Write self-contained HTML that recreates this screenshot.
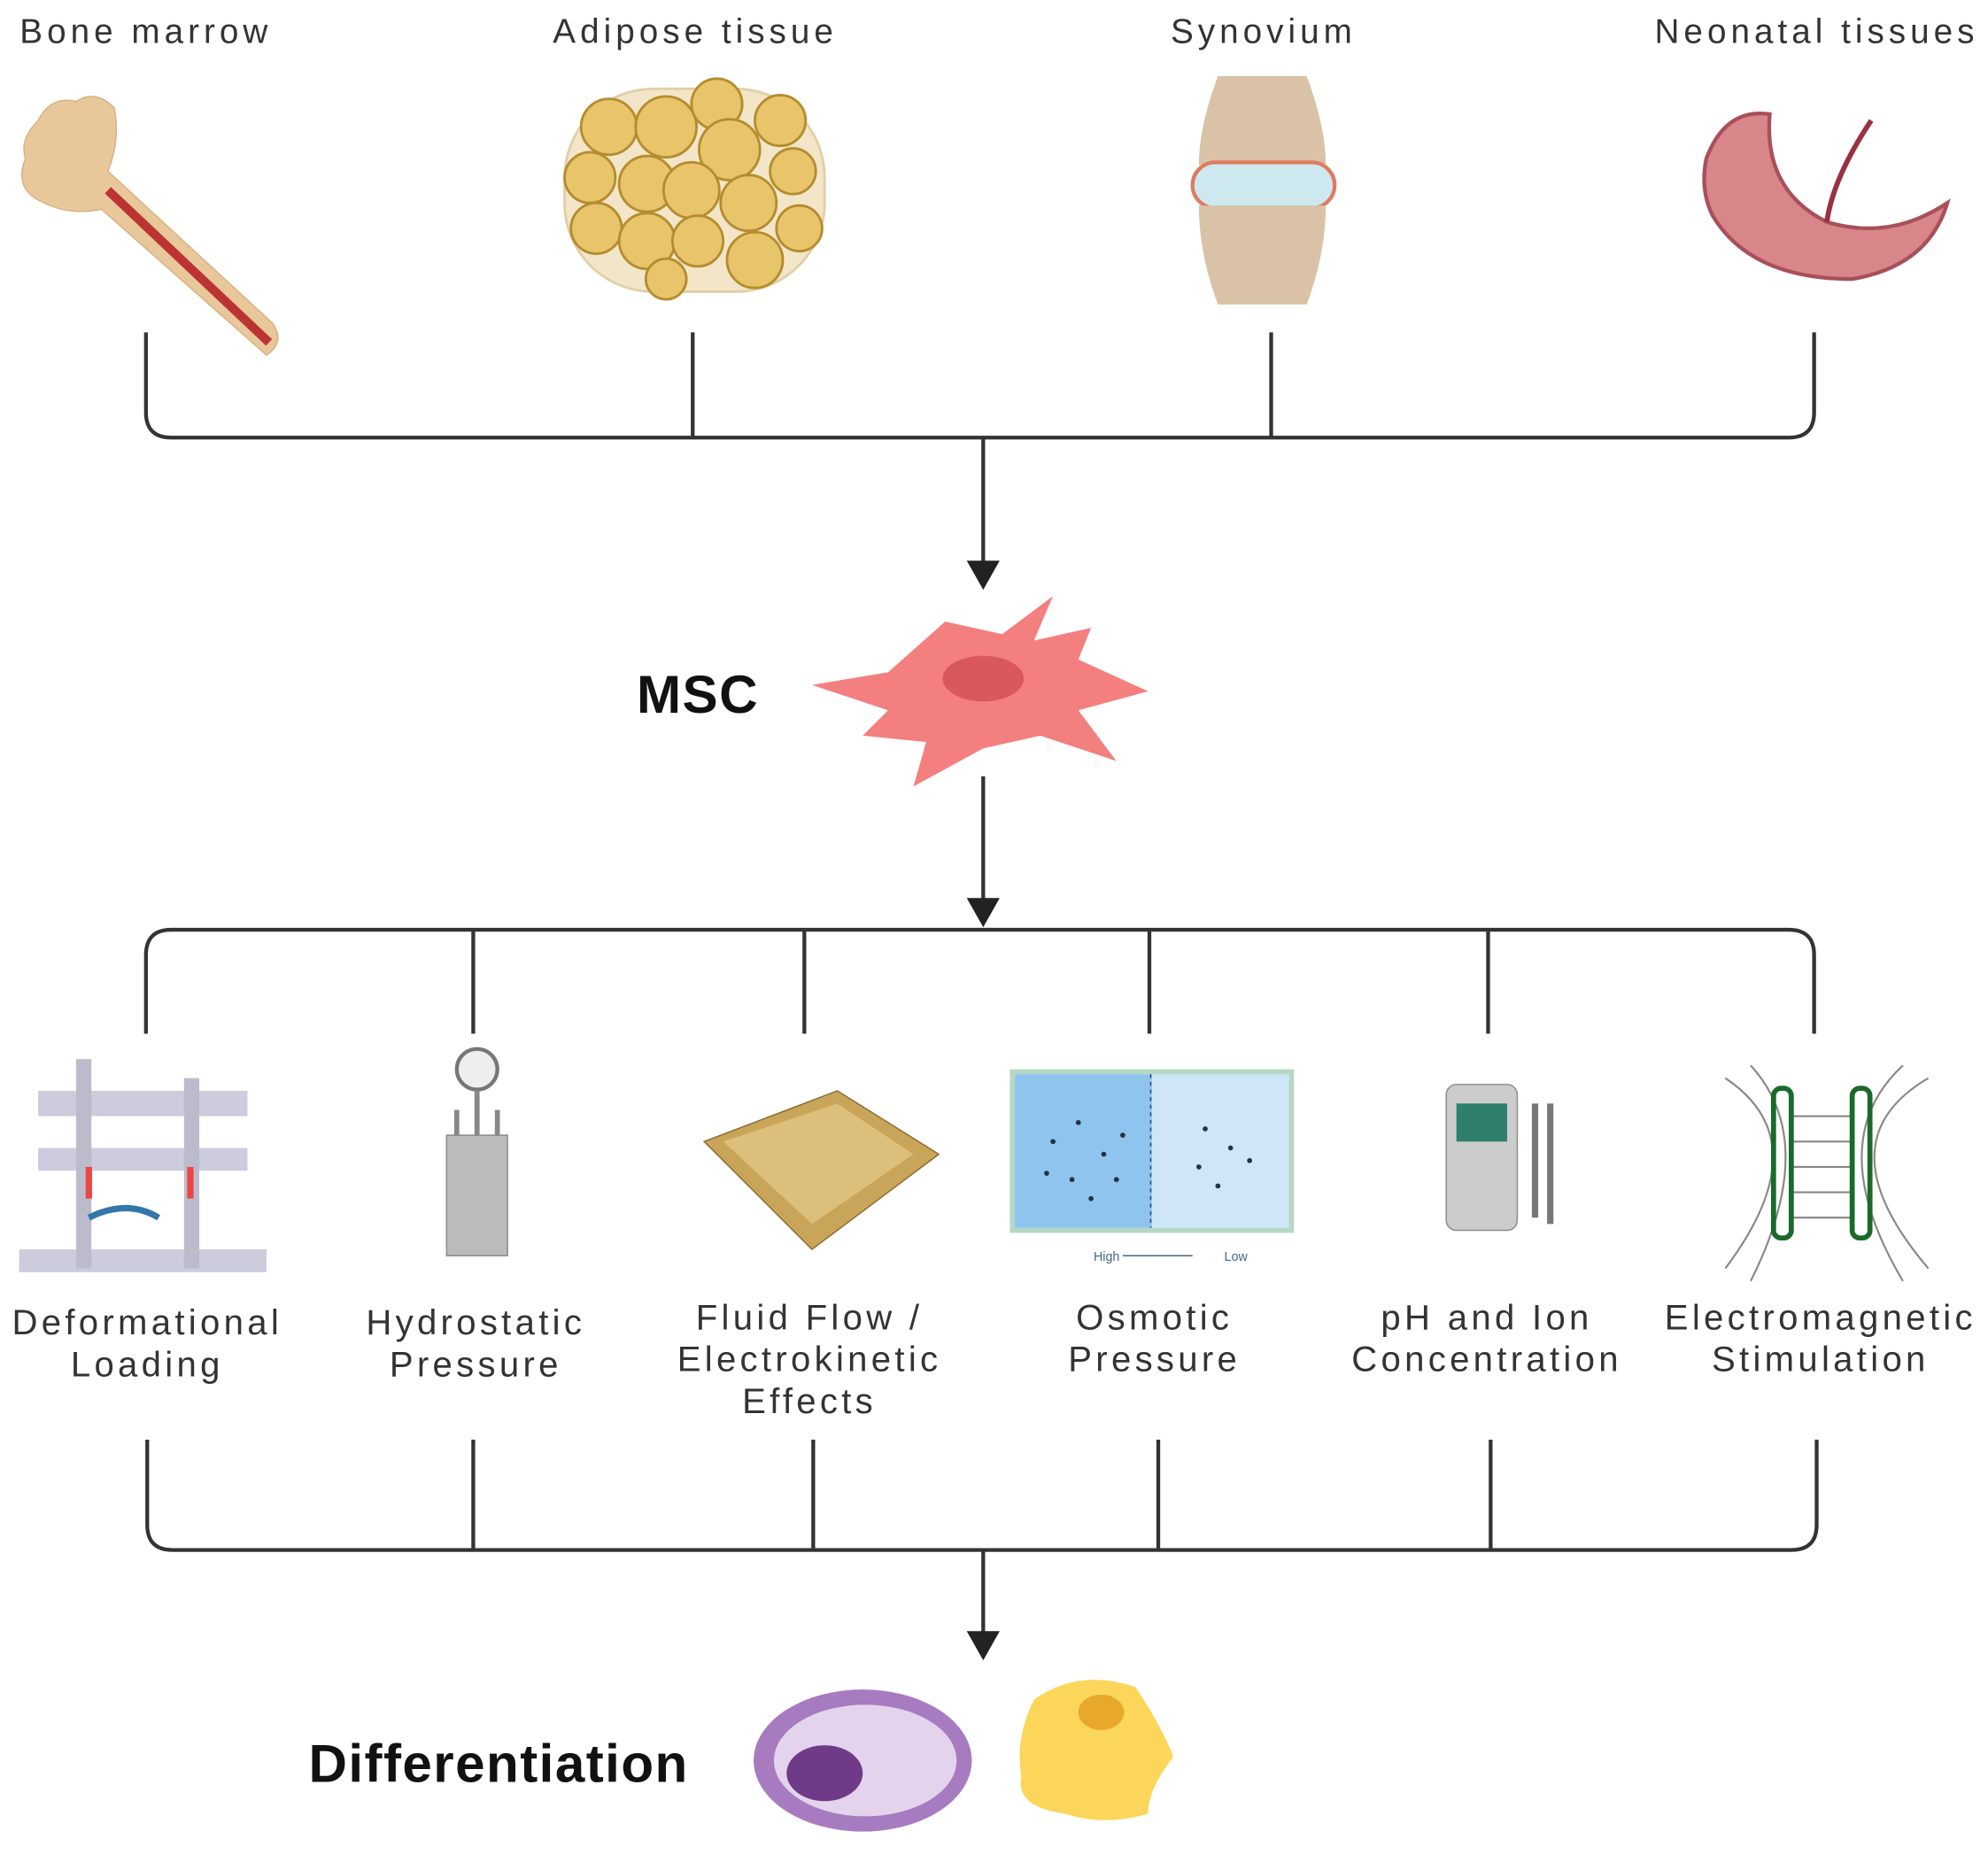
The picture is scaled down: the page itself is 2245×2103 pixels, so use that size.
<!DOCTYPE html>
<html><head><meta charset="utf-8"><style>html,body{margin:0;padding:0;background:#fff}svg{display:block}</style></head>
<body>
<svg width="2245" height="2103" viewBox="0 0 1567 1468" xmlns="http://www.w3.org/2000/svg" font-family="Liberation Sans, sans-serif">
<g fill="#333" font-size="27" text-anchor="middle" letter-spacing="3.5">
<text x="115" y="34">Bone marrow</text>
<text x="548" y="34">Adipose tissue</text>
<text x="996" y="34">Synovium</text>
<text x="1432" y="34">Neonatal tissues</text>
</g>
<!-- bone -->
<g>
<path d="M30,95 Q40,75 60,80 Q75,70 90,85 Q95,110 85,135 L215,255 Q225,270 210,280 L80,165 Q55,170 35,160 Q10,150 20,125 Q15,110 30,95z" fill="#e8c79a" stroke="#d8b080"/>
<path d="M85,150 L212,270" stroke="#b33" stroke-width="7"/>
</g>
<!-- adipose -->
<g fill="#e8c56a" stroke="#b58c2f" stroke-width="2">
<rect x="445" y="70" width="205" height="160" rx="70" fill="#f3e6c8" stroke="#e0d0a8"/>
<circle cx="480" cy="100" r="22"/><circle cx="525" cy="100" r="24"/><circle cx="565" cy="82" r="20"/><circle cx="575" cy="118" r="24"/><circle cx="615" cy="95" r="20"/>
<circle cx="465" cy="140" r="20"/><circle cx="510" cy="145" r="22"/><circle cx="545" cy="150" r="22"/><circle cx="590" cy="160" r="22"/><circle cx="625" cy="135" r="18"/>
<circle cx="470" cy="180" r="20"/><circle cx="510" cy="190" r="22"/><circle cx="550" cy="190" r="20"/><circle cx="595" cy="205" r="22"/><circle cx="630" cy="180" r="18"/><circle cx="525" cy="220" r="16"/>
</g>
<!-- synovium -->
<g>
<path d="M960,60 L1030,60 Q1045,100 1045,130 L945,130 Q945,100 960,60z" fill="#d9c2a6"/>
<rect x="940" y="128" width="112" height="36" rx="18" fill="#cde9ef" stroke="#e07a5f" stroke-width="3"/>
<path d="M945,162 L1045,162 Q1045,200 1030,240 L960,240 Q945,200 945,162z" fill="#d9c2a6"/>
</g>
<!-- neonatal -->
<g>
<path d="M1345,125 Q1360,85 1395,90 Q1390,150 1440,175 Q1490,190 1535,160 Q1520,210 1460,220 Q1380,220 1350,170 Q1340,150 1345,125z" fill="#d9868a" stroke="#a8505a" stroke-width="3"/>
<path d="M1440,175 Q1445,140 1475,95" stroke="#9a3040" stroke-width="4" fill="none"/>
</g>
<g stroke="#333" stroke-width="3" fill="none">
<path d="M115,262 V325 Q115,345 135,345 H1410 Q1430,345 1430,325 V262"/>
<path d="M546,262 V345 M1002,262 V345"/>
<path d="M775,345 V448"/>
<path d="M775,612 V714"/>
<path d="M115,815 V753 Q115,733 135,733 H1410 Q1430,733 1430,753 V815"/>
<path d="M373,733 V815 M634,733 V815 M906,733 V815 M1173,733 V815"/>
<path d="M116,1135 V1202 Q116,1222 136,1222 H1412 Q1432,1222 1432,1202 V1135"/>
<path d="M373,1135 V1222 M641,1135 V1222 M913,1135 V1222 M1175,1135 V1222"/>
<path d="M775,1222 V1292"/>
</g>
<g fill="#222"><path d="M762,442 L788,442 L775,465z"/><path d="M762,708 L788,708 L775,731z"/><path d="M762,1286 L788,1286 L775,1309z"/></g>
<text x="550" y="562" font-size="42" font-weight="bold" text-anchor="middle" fill="#111" letter-spacing="1">MSC</text>
<path d="M640,540 L700,530 L745,490 L790,500 L830,470 L815,505 L860,495 L850,520 L905,545 L850,560 L880,600 L820,580 L775,590 L720,620 L730,585 L680,580 L700,560z" fill="#f47f7f"/>
<ellipse cx="775" cy="535" rx="32" ry="18" fill="#d9585e"/>
<!-- icons row -->
<g>
<rect x="30" y="860" width="165" height="20" fill="#ccd" /><rect x="30" y="905" width="165" height="18" fill="#ccd"/><rect x="15" y="985" width="195" height="18" fill="#ccd"/>
<rect x="60" y="835" width="12" height="165" fill="#bbc"/><rect x="145" y="850" width="12" height="150" fill="#bbc"/>
<path d="M70,920 V945 M150,920 V945" stroke="#e44" stroke-width="5"/>
<path d="M70,960 Q100,945 125,960" stroke="#37a" stroke-width="5" fill="none"/>
<rect x="352" y="895" width="48" height="95" fill="#bbb" stroke="#888"/>
<circle cx="376" cy="843" r="16" fill="#eee" stroke="#777" stroke-width="3"/>
<path d="M376,860 V895 M360,875 V895 M392,875 V895" stroke="#888" stroke-width="4"/>
<path d="M555,900 L660,860 L740,910 L640,985 Z" fill="#c9a55a" stroke="#8a6a30"/>
<path d="M570,900 L660,870 L720,910 L640,965 Z" fill="#dcbf7a"/>
<rect x="798" y="845" width="220" height="125" fill="#cfe6f7" stroke="#b5d8c5" stroke-width="4"/>
<rect x="800" y="847" width="108" height="121" fill="#8fc4ee"/>
<path d="M907,847 V968" stroke="#345" stroke-dasharray="3,3"/>
<g fill="#234">
<circle cx="830" cy="900" r="2"/><circle cx="850" cy="885" r="2"/><circle cx="870" cy="910" r="2"/><circle cx="845" cy="930" r="2"/><circle cx="880" cy="930" r="2"/><circle cx="825" cy="925" r="2"/><circle cx="860" cy="945" r="2"/><circle cx="885" cy="895" r="2"/>
<circle cx="950" cy="890" r="2"/><circle cx="970" cy="905" r="2"/><circle cx="945" cy="920" r="2"/><circle cx="985" cy="915" r="2"/><circle cx="960" cy="935" r="2"/></g>
<text x="862" y="994" font-size="10" fill="#468">High</text><text x="965" y="994" font-size="10" fill="#468">Low</text>
<path d="M885,990 H940" stroke="#468"/>
<rect x="1140" y="855" width="56" height="115" rx="8" fill="#ccc" stroke="#888"/>
<rect x="1148" y="870" width="40" height="30" fill="#2f7f6f"/>
<path d="M1210,870 V960 M1222,870 V965" stroke="#777" stroke-width="5"/>
<g stroke="#888" fill="none" stroke-width="1.5">
<path d="M1360,850 Q1435,900 1360,1000 M1380,840 Q1435,900 1380,1010 M1520,850 Q1435,900 1520,1000 M1500,840 Q1435,900 1500,1010"/>
<path d="M1410,880 H1460 M1410,900 H1460 M1410,920 H1460 M1410,940 H1460 M1410,960 H1460"/></g>
<rect x="1398" y="858" width="14" height="118" rx="6" fill="none" stroke="#1a6a2a" stroke-width="4"/>
<rect x="1460" y="858" width="14" height="118" rx="6" fill="none" stroke="#1a6a2a" stroke-width="4"/>
</g>
<g fill="#333" font-size="28" text-anchor="middle" letter-spacing="3">
<text x="116" y="1052">Deformational</text><text x="116" y="1085">Loading</text>
<text x="375" y="1052">Hydrostatic</text><text x="375" y="1085">Pressure</text>
<text x="638" y="1048">Fluid Flow /</text><text x="638" y="1081">Electrokinetic</text><text x="638" y="1114">Effects</text>
<text x="910" y="1048">Osmotic</text><text x="910" y="1081">Pressure</text>
<text x="1172" y="1048">pH and Ion</text><text x="1172" y="1081">Concentration</text>
<text x="1435" y="1048">Electromagnetic</text><text x="1435" y="1081">Stimulation</text>
</g>
<text x="393" y="1405" font-size="42" font-weight="bold" text-anchor="middle" fill="#111" letter-spacing="1">Differentiation</text>
<ellipse cx="680" cy="1388" rx="86" ry="56" fill="#a77bc0"/>
<ellipse cx="682" cy="1388" rx="72" ry="44" fill="#e4d3ec"/>
<ellipse cx="650" cy="1398" rx="30" ry="22" fill="#6f3a88"/>
<path d="M815,1340 Q850,1315 895,1330 Q915,1360 925,1385 Q905,1410 905,1430 Q870,1440 840,1430 Q800,1425 805,1400 Q800,1370 815,1340z" fill="#fbd65a"/>
<ellipse cx="868" cy="1350" rx="18" ry="14" fill="#e8a82a"/>
</svg>
</body></html>
